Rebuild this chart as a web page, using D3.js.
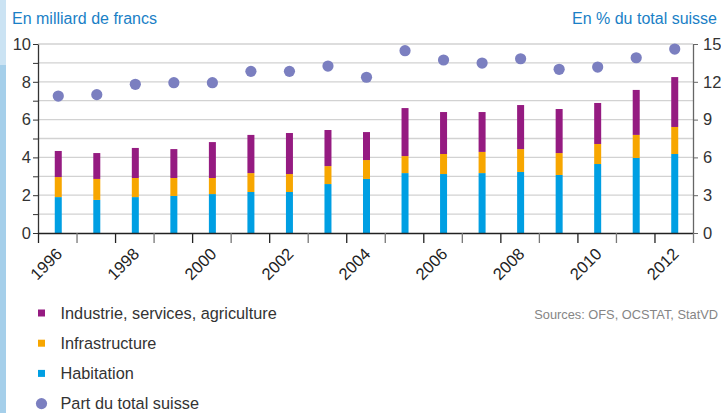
<!DOCTYPE html>
<html>
<head>
<meta charset="utf-8">
<script src="https://cdn.jsdelivr.net/npm/d3@7"></script>
<style>
  html, body { margin: 0; padding: 0; background: #fff; }
  svg { display: block; font-family: "Liberation Sans", Arial, Helvetica, sans-serif; }
</style>
</head>
<body>
<svg id="chart" width="721" height="413"></svg>
<script>
// données (milliards de francs / % du total suisse)
var years = [1996, 1997, 1998, 1999, 2000, 2001, 2002, 2003, 2004, 2005, 2006, 2007, 2008, 2009, 2010, 2011, 2012];
var habitation = [1.90, 1.75, 1.90, 1.96, 2.06, 2.17, 2.17, 2.59, 2.86, 3.17, 3.12, 3.17, 3.23, 3.07, 3.65, 3.97, 4.18];
var infrastructure = [1.06, 1.11, 1.01, 0.95, 0.85, 1.00, 0.95, 0.95, 1.00, 0.90, 1.06, 1.12, 1.21, 1.16, 1.06, 1.22, 1.43];
var industrie = [1.38, 1.37, 1.59, 1.53, 1.90, 2.02, 2.17, 1.91, 1.48, 2.54, 2.22, 2.11, 2.33, 2.33, 2.17, 2.38, 2.64];
var partSuisse = [10.87, 10.98, 11.80, 11.93, 11.93, 12.83, 12.83, 13.25, 12.36, 14.47, 13.73, 13.49, 13.83, 12.99, 13.17, 13.91, 14.60];
var leftTicks = [0, 1, 2, 3, 4, 5, 6, 7, 8, 9, 10];
var rightTicks = [0, 3, 6, 9, 12, 15];

var seriesKeys = ['habitation', 'infrastructure', 'industrie'];
var colors = { habitation: '#009fe3', infrastructure: '#f7a600', industrie: '#951b81' };
var dotColor = '#7b7fc0';
var blue = '#1a7fc6';

var svg = d3.select('#chart');
var plotLeft = 38, plotRight = 693, plotTop = 44, plotBottom = 233;

// bande bleue à gauche
svg.append('rect').attr('x', 0).attr('y', 0).attr('width', 6).attr('height', 65).attr('fill', '#cbe3f3');
svg.append('rect').attr('x', 0).attr('y', 65).attr('width', 6).attr('height', 348).attr('fill', '#a5cfea');

var rows = years.map(function (y, i) {
    return { year: y, habitation: habitation[i], infrastructure: infrastructure[i], industrie: industrie[i], part: partSuisse[i] };
});

var x = d3.scaleBand().domain(years).range([plotLeft, plotRight]).padding(0);
var xEdge = d3.scaleLinear().domain([0, years.length]).range([plotLeft, plotRight]);
var y = d3.scaleLinear().domain([0, 10]).range([plotBottom, plotTop]);
var yR = d3.scaleLinear().domain([0, 15]).range([plotBottom, plotTop]);

// grille
svg.append('g').selectAll('line').data(leftTicks.slice(1)).enter().append('line')
    .attr('x1', plotLeft).attr('x2', plotRight)
    .attr('y1', function (d) { return y(d); }).attr('y2', function (d) { return y(d); })
    .attr('stroke', '#d2d2d2').attr('stroke-width', 1.3);

// barres empilées
var stacked = d3.stack().keys(seriesKeys)(rows);
var barW = 7;
svg.append('g').selectAll('g').data(stacked).enter().append('g')
    .attr('fill', function (d) { return colors[d.key]; })
    .selectAll('rect').data(function (d) { return d; }).enter().append('rect')
    .attr('x', function (d) { return x(d.data.year) + x.bandwidth() / 2 - barW / 2 + 1; })
    .attr('width', barW)
    .attr('y', function (d) { return y(d[1]); })
    .attr('height', function (d) { return y(d[0]) - y(d[1]); });

// points
svg.append('g').selectAll('circle').data(rows).enter().append('circle')
    .attr('cx', function (d) { return x(d.year) + x.bandwidth() / 2 + 1; })
    .attr('cy', function (d) { return yR(d.part); })
    .attr('r', 5.6)
    .attr('fill', dotColor);

// axe gauche
var gLeft = svg.append('g').attr('transform', 'translate(' + plotLeft + ',0)')
    .call(d3.axisLeft(y).tickValues(leftTicks).tickSize(5).tickPadding(2).tickSizeOuter(0)
        .tickFormat(function (d) { return d % 2 ? '' : d; }));
gLeft.select('.domain').attr('stroke', '#333').attr('stroke-width', 1.3);
gLeft.selectAll('.tick line').attr('stroke', '#333');
gLeft.selectAll('.tick text').attr('font-size', 16.5).attr('fill', '#333');
gLeft.attr('font-family', null);

// axe droit
var gRight = svg.append('g').attr('transform', 'translate(' + plotRight + ',0)')
    .call(d3.axisRight(yR).tickValues(rightTicks).tickSize(5).tickPadding(5).tickSizeOuter(0));
gRight.select('.domain').attr('stroke', '#666').attr('stroke-width', 1.3);
gRight.selectAll('.tick line').attr('stroke', '#666');
gRight.selectAll('.tick text').attr('font-size', 16.5).attr('fill', '#333');
gRight.attr('font-family', null);

// axe du bas
var gBottom = svg.append('g').attr('transform', 'translate(0,' + plotBottom + ')')
    .call(d3.axisBottom(xEdge).tickValues(d3.range(years.length + 1)).tickSize(10).tickFormat('').tickSizeOuter(0));
gBottom.select('.domain').attr('stroke', '#222').attr('stroke-width', 1.5);
gBottom.selectAll('.tick line')
    .attr('stroke', function (d) { return d % 2 ? '#777' : '#222'; })
    .attr('stroke-width', 1.3);

svg.append('g').selectAll('text').data(years.filter(function (d) { return d % 2 === 0; })).enter().append('text')
    .attr('transform', function (d) { return 'translate(' + (x(d) + x.bandwidth() / 2 + 6) + ',' + (plotBottom + 22) + ') rotate(-45)'; })
    .attr('text-anchor', 'end')
    .attr('font-size', 16.5)
    .attr('fill', '#222')
    .text(function (d) { return d; });

// titres des axes
svg.append('text').attr('x', 12).attr('y', 24).attr('font-size', 16).attr('fill', blue).text('En milliard de francs');
svg.append('text').attr('x', 717).attr('y', 24).attr('text-anchor', 'end').attr('font-size', 16).attr('fill', blue).text('En % du total suisse');

// légende
var legend = [
    { label: 'Industrie, services, agriculture', color: colors.industrie, type: 'rect' },
    { label: 'Infrastructure', color: colors.infrastructure, type: 'rect' },
    { label: 'Habitation', color: colors.habitation, type: 'rect' },
    { label: 'Part du total suisse', color: dotColor, type: 'dot' }
];
var lg = svg.append('g').selectAll('g').data(legend).enter().append('g')
    .attr('transform', function (d, i) { return 'translate(41.5,' + (313 + i * 30.2) + ')'; });
lg.filter(function (d) { return d.type === 'rect'; }).append('rect')
    .attr('x', -3.5).attr('y', -3.5).attr('width', 7).attr('height', 7)
    .attr('fill', function (d) { return d.color; });
lg.filter(function (d) { return d.type === 'dot'; }).append('circle')
    .attr('r', 5.6).attr('fill', function (d) { return d.color; });
lg.append('text').attr('x', 19).attr('dy', '0.35em').attr('font-size', 16.3).attr('fill', '#333')
    .text(function (d) { return d.label; });

svg.append('text').attr('x', 718).attr('y', 319).attr('text-anchor', 'end')
    .attr('font-size', 12.8).attr('fill', '#858585').text('Sources: OFS, OCSTAT, StatVD');
</script>
</body>
</html>
